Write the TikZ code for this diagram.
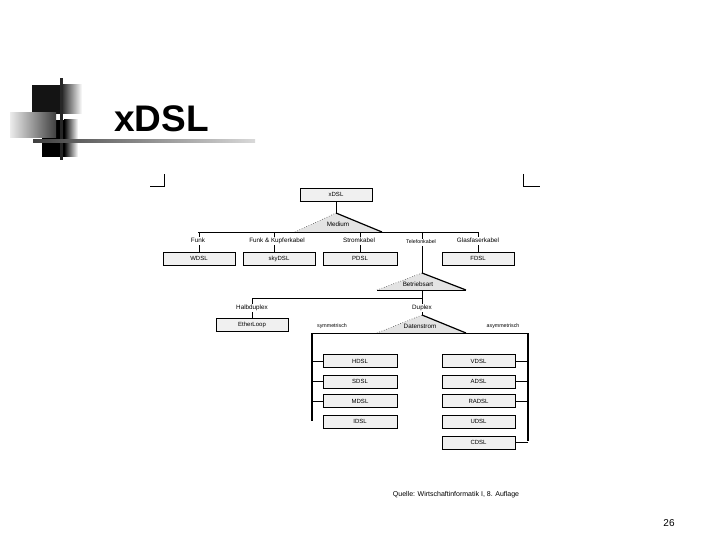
\documentclass[tikz,border=0pt]{standalone}
\usepackage{fontspec}
\setmainfont{Liberation Sans}
\begin{document}
\begin{tikzpicture}[x=1pt,y=-1pt,
  box/.style={draw, line width=0.4pt, fill=gray!12, minimum width=73pt, minimum height=13pt, inner sep=0pt, font=\fontsize{6}{7}\selectfont},
  lbl/.style={fill=white, inner sep=1pt, text height=4.6pt, text depth=1.3pt, font=\fontsize{6.3}{7}\selectfont},
  slbl/.style={fill=white, inner sep=1pt, text height=3.9pt, text depth=1.1pt, font=\fontsize{5.3}{6}\selectfont},
  tlbl/.style={inner sep=0pt, text height=4.6pt, text depth=1.3pt, font=\fontsize{6.3}{7}\selectfont},
  conn/.style={line width=0.7pt},
  bus/.style={line width=1.6pt},
  shadowedge/.style={line width=1.3pt},
  tri/.style={fill=gray!22},
  trishade/.style={line width=1.2pt},
  tridot/.style={line width=0.5pt, dotted}]
\useasboundingbox (0,0) rectangle (720,540);
% decoration
\fill[black!92] (32,85) rectangle (60,114);
\shade[left color=black!92, right color=white] (60,85) rectangle (82,114);
\fill[black] (42,120) rectangle (64,157);
\shade[left color=black, right color=white] (64,120) rectangle (78,157);
\shade[left color=gray!15, right color=black!75] (10,113) rectangle (56,138);
\fill[black!85] (60,78) rectangle (62.5,160);
\shade[left color=black!75, right color=gray!30] (33,139.8) rectangle (255,142.3);
\node[anchor=base west, inner sep=0pt, font=\bfseries\fontsize{37}{40}\selectfont] (title) at (114,132) {xDSL};
% corner marks
\draw[line width=0.8pt] (150,186) -- (164,186) -- (164,174);
\draw[line width=0.8pt] (523,174) -- (523,186) -- (540,186);
% boxes
\node[box, minimum width=72pt] (xdsl) at (336,194.5) {xDSL};
\node[box, minimum width=72pt] (wdsl) at (199,258.5) {WDSL};
\node[box, minimum width=72pt] (sky) at (279,258.5) {skyDSL};
\node[box, minimum width=74pt] (pdsl) at (360,258.5) {PDSL};
\node[box, minimum width=72pt] (fdsl) at (478,258.5) {FDSL};
\node[box, minimum width=72pt] (ether) at (252,324.5) {EtherLoop};
\node[box, minimum width=74pt] (hdsl) at (360,361) {HDSL};
\node[box, minimum width=74pt] (sdsl) at (360,381.5) {SDSL};
\node[box, minimum width=74pt] (mdsl) at (360,401) {MDSL};
\node[box, minimum width=74pt] (idsl) at (360,421.5) {IDSL};
\node[box, minimum width=73pt] (vdsl) at (478.5,361) {VDSL};
\node[box, minimum width=73pt] (adsl) at (478.5,381.5) {ADSL};
\node[box, minimum width=73pt] (radsl) at (478.5,401) {RADSL};
\node[box, minimum width=73pt] (udsl) at (478.5,421.5) {UDSL};
\node[box, minimum width=73pt] (cdsl) at (478.5,442.5) {CDSL};
\foreach \n in {xdsl,wdsl,sky,pdsl,fdsl,ether,hdsl,sdsl,mdsl,idsl,vdsl,adsl,radsl,udsl,cdsl}
  \draw[shadowedge] (\n.south west) -- (\n.south east) -- (\n.north east);
% coordinates
\coordinate (medtop) at (336,213);
\coordinate (medl) at (295,232);
\coordinate (medr) at (382,232);
\coordinate (hb) at (198,232);
\coordinate (he) at (478,232);
\coordinate (fkj) at (274,232);
\coordinate (fkb) at (274,252);
\coordinate (tel) at (422,232);
\coordinate (bettop) at (422,273);
\coordinate (betl) at (377,290);
\coordinate (betr) at (466,290);
\coordinate (betb) at (422,290);
\coordinate (dupj) at (422,298);
\coordinate (halbj) at (252,298);
\coordinate (dattop) at (422,315);
\coordinate (datl) at (377,333);
\coordinate (datr) at (466,333);
\coordinate (busl) at (312,333);
\coordinate (busr) at (528,333);
\coordinate (busle) at (312,421);
\coordinate (busre) at (528,441);
% connectors
\draw[conn] (xdsl.south) -- (medtop);
\draw[conn] (hb) -- (he);
\draw[conn] (wdsl.north |- hb) -- (wdsl.north);
\draw[conn] (fkj) -- (fkb);
\draw[conn] (pdsl.north |- hb) -- (pdsl.north);
\draw[conn] (fdsl.north |- hb) -- (fdsl.north);
\draw[conn] (tel) -- (bettop);
\draw[conn] (betb) -- (dupj) -- (halbj) -- (ether.north);
\draw[conn] (dupj) -- (dattop);
\draw[conn] (busl) -- (busr);
\draw[bus] (busl) -- (busle);
\draw[bus] (busr) -- (busre);
\draw[conn] (hdsl.west -| busl) -- (hdsl.west);
\draw[conn] (sdsl.west -| busl) -- (sdsl.west);
\draw[conn] (mdsl.west -| busl) -- (mdsl.west);
\draw[conn] (vdsl.east -| busr) -- (vdsl.east);
\draw[conn] (adsl.east -| busr) -- (adsl.east);
\draw[conn] (radsl.east -| busr) -- (radsl.east);
\draw[conn] (cdsl.east -| busr) -- (cdsl.east);
% triangles
\fill[tri] (medl) -- (medtop) -- (medr) -- cycle;
\draw[tridot] (medl) -- (medtop);
\draw[trishade] (medtop) -- (medr);
\draw[conn] (medl) -- (medr);
\fill[tri] (betl) -- (bettop) -- (betr) -- cycle;
\draw[tridot] (betl) -- (bettop);
\draw[trishade] (bettop) -- (betr);
\draw[conn] (betl) -- (betr);
\fill[tri] (datl) -- (dattop) -- (datr) -- cycle;
\draw[tridot] (datl) -- (dattop);
\draw[trishade] (dattop) -- (datr);
\draw[conn] (datl) -- (datr);
\node[tlbl] (medium) at (338,225) {Medium};
\node[tlbl] (betrieb) at (418,285) {Betriebsart};
\node[tlbl] (daten) at (420,327) {Datenstrom};
% labels
\node[lbl] (funk) at (198,241) {Funk};
\node[lbl] (fk) at (277,241) {Funk \& Kupferkabel};
\node[lbl] (strom) at (359,241) {Stromkabel};
\node[slbl] (telk) at (421,242) {Telefonkabel};
\node[lbl] (glas) at (478,241) {Glasfaserkabel};
\node[lbl] (halb) at (252,308) {Halbduplex};
\node[lbl] (dup) at (422,308) {Duplex};
\node[slbl] (sym) at (332,326) {symmetrisch};
\node[slbl] (asym) at (503,326) {asymmetrisch};
% caption and page number
\node[inner sep=0pt, font=\fontsize{7}{8}\selectfont] (quelle) at (456,495) {Quelle: Wirtschaftinformatik I, 8. Auflage};
\node[inner sep=0pt, font=\fontsize{10}{12}\selectfont] (page) at (669,523) {26};
\end{tikzpicture}
\end{document}
